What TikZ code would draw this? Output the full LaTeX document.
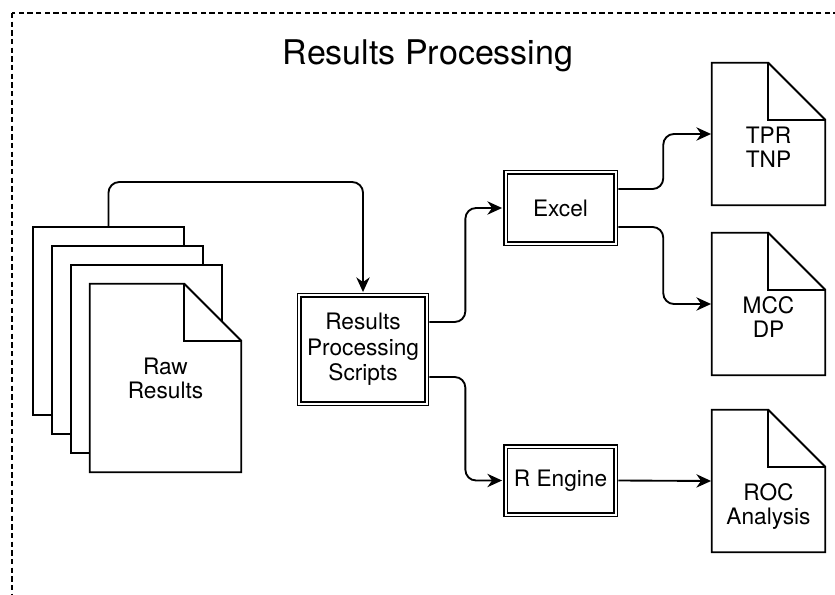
\documentclass[tikz,border=0pt]{standalone}
\usepackage{fontspec}
\setmainfont{TeX Gyre Heros}
\usetikzlibrary{arrows.meta, calc}

\begin{document}
\begin{tikzpicture}[x=0.75pt, y=-0.75pt,
  proc/.style={draw, double, line width=1.15pt, double distance=1.5pt, fill=white,
               align=center, inner sep=0pt, font=\fontsize{17}{19}\selectfont},
  rawpage/.style={inner sep=0pt, minimum width=113.25pt, minimum height=141pt},
  outpage/.style={inner sep=0pt, minimum width=84.75pt, minimum height=106.5pt},
  docline/.style={line width=1.45pt, line join=miter},
  doctext/.style={align=center, font=\fontsize{17}{18}\selectfont},
  flow/.style={line width=1.4pt, rounded corners=8pt,
               -{Stealth[length=11pt, width=10pt, inset=3.5pt]}}]

\useasboundingbox (0,0) rectangle (835,595);
\clip (0,0) rectangle (835,595);

% Frame and title
\draw[line width=1.1pt, dash pattern=on 4pt off 2.5pt] (12,13) rectangle (870,630);
\node[font=\fontsize{25.5}{29}\selectfont] (title) at (428,56) {Results Processing};

% --- Raw results stack ---
\node[rawpage, draw, fill=white, line width=1.45pt] (raw1) at (108.5,321) {};
\node[rawpage, draw, fill=white, line width=1.45pt] (raw2) at (127.5,340) {};
\node[rawpage, draw, fill=white, line width=1.45pt] (raw3) at (146.5,359) {};
\node[rawpage] (raw) at (165.5,378) {};

% --- Output documents ---
\node[outpage] (tpr) at (768.5,134) {};
\node[outpage] (mcc) at (768.5,304) {};
\node[outpage] (roc) at (768.5,481) {};

% Dog-eared outlines
\foreach \d in {raw,tpr,mcc,roc} {
  \draw[docline, fill=white] (\d.south west) |- ([xshift=-42.75pt]\d.north east)
    -- ([yshift=-42.75pt]\d.north east) -- (\d.south east) -- cycle;
  \draw[docline] ([xshift=-42.75pt]\d.north east) |- ([yshift=-42.75pt]\d.north east);
}

\node[doctext] (rawtext) at (165.5,378) {Raw\\Results};
\node[doctext] (tprtext) at (768.5,147) {TPR\\TNP};
\node[doctext] (mcctext) at (768.5,317) {MCC\\DP};
\node[doctext] (roctext) at (768.5,507) {ROC\\Analysis};

% --- Processing boxes ---
\node[proc, minimum width=95.4pt, minimum height=81pt] (rps) at (363,349.5)
  {Results\\Processing\\Scripts};
\node[proc, minimum width=82.5pt, minimum height=53.5pt] (excel) at (560.5,208) {Excel};
\node[proc, minimum width=82.5pt, minimum height=51pt] (reng) at (560.5,480.5) {R Engine};

% --- Connectors ---
\draw[flow, shorten >=2pt] (raw1.north) -- ++(0,-44) -| (rps.north);
\draw[flow, shorten >=2pt] ($(rps.east)+(2,-27.5)$) -- ++(36,0) |- (excel.west);
\draw[flow, shorten >=2pt] ($(rps.east)+(2,27.5)$) -- ++(36,0) |- (reng.west);
\draw[flow, shorten >=0.5pt] ($(excel.east)+(2,-19)$) -- ++(45,0) |- (tpr.west);
\draw[flow, shorten >=0.5pt] ($(excel.east)+(2,19)$) -- ++(45,0) |- (mcc.west);
\draw[flow, shorten >=0.5pt] ($(reng.east)+(2,0)$) -- (roc.west);

\end{tikzpicture}
\end{document}
